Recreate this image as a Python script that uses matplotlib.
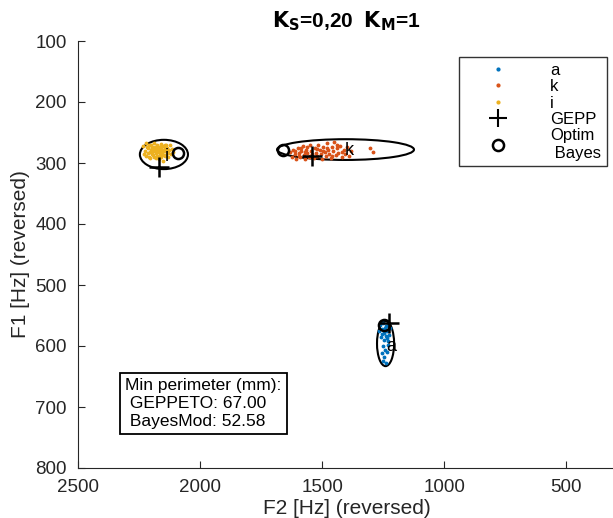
import matplotlib
matplotlib.use("Agg")
import matplotlib.pyplot as plt
from matplotlib.patches import Ellipse
from matplotlib.lines import Line2D

plt.rcParams['font.family'] = ['Liberation Sans', 'DejaVu Sans']

COL = {"a": "#0072BD", "k": "#D95319", "i": "#EDB120"}

# token clouds (F2, F1) in Hz
i_f2 = [2232, 2226, 2222, 2220, 2215, 2212, 2208, 2205, 2202, 2198, 2195, 2192, 2190, 2188, 2185,
        2182, 2178, 2175, 2172, 2170, 2168, 2165, 2162, 2160, 2157, 2155, 2152, 2150, 2147, 2145,
        2142, 2140, 2137, 2134, 2130, 2127, 2124, 2120, 2116, 2112, 2228, 2218, 2210, 2200, 2194,
        2186, 2180, 2174, 2166, 2158, 2148, 2138, 2206, 2196, 2184, 2176, 2164, 2154, 2144, 2132]
i_f1 = [272, 280, 268, 288, 276, 284, 270, 292, 279, 286, 273, 281, 268, 290, 277,
        284, 271, 288, 279, 294, 274, 283, 269, 290, 278, 285, 272, 296, 281, 276,
        288, 270, 283, 275, 290, 279, 271, 285, 277, 282, 285, 274, 290, 270, 287,
        274, 292, 282, 288, 274, 287, 278, 282, 276, 280, 276, 278, 280, 270, 284]

k_f2 = [1632, 1625, 1618, 1612, 1606, 1600, 1595, 1590, 1585, 1580, 1575, 1570, 1565, 1560, 1555,
        1550, 1545, 1540, 1535, 1530, 1525, 1520, 1515, 1510, 1505, 1500, 1495, 1490, 1485, 1480,
        1475, 1470, 1465, 1460, 1455, 1450, 1445, 1440, 1435, 1428, 1420, 1412, 1405, 1398, 1390,
        1380, 1302, 1290, 1610, 1588, 1572, 1548, 1522, 1498, 1478, 1458, 1438, 1418, 1596, 1562]
k_f1 = [282, 290, 279, 286, 293, 276, 284, 290, 280, 272, 287, 294, 278, 283, 290,
        271, 280, 286, 292, 276, 283, 289, 270, 279, 286, 293, 274, 282, 288, 268,
        278, 285, 291, 273, 281, 266, 287, 276, 283, 272, 290, 279, 285, 274, 288,
        281, 275, 282, 280, 275, 282, 288, 277, 281, 275, 289, 270, 282, 288, 273]

a_f2 = [1262, 1255, 1250, 1245, 1240, 1235, 1230, 1225, 1258, 1248, 1238, 1228, 1252, 1242, 1232,
        1256, 1246, 1236, 1250, 1240, 1266, 1220, 1244, 1254, 1234]
a_f1 = [566, 572, 562, 578, 568, 575, 565, 582, 586, 590, 584, 592, 600, 606, 598,
        612, 618, 610, 624, 628, 575, 570, 571, 580, 587]

vowels = ["a", "k", "i"]
# dispersion ellipses: centre F2, centre F1, width (Hz), height (Hz)
ell_f2 = [1240, 1404, 2148]
ell_f1 = [596, 278, 286]
ell_w = [70, 561, 197]
ell_h = [74, 34, 48]
# label positions
lab_f2 = [1217, 1389, 2135]
lab_f1 = [601, 279, 290]
# GEPPETO and Bayes optimum targets
gepp_f2 = [1225, 1541, 2168]
gepp_f1 = [562, 288, 307]
bayes_f2 = [1246, 1660, 2090]
bayes_f1 = [565, 279, 284]

fig = plt.figure(figsize=(6.13, 5.18), dpi=100)
ax = fig.add_axes([78 / 613, 50 / 518, 537 / 613, 427 / 518])

clouds = {"a": (a_f2, a_f1), "k": (k_f2, k_f1), "i": (i_f2, i_f1)}
for v in vowels:
    ax.plot(clouds[v][0], clouds[v][1], ".", color=COL[v], ms=3.5, ls="none")

for j, v in enumerate(vowels):
    ax.add_patch(Ellipse((ell_f2[j], ell_f1[j]), ell_w[j], ell_h[j], fill=False,
                         ec="black", lw=1.5))
    ax.text(lab_f2[j], lab_f1[j], v, ha="center", va="center", fontsize=13)
    ax.plot(gepp_f2[j], gepp_f1[j], "+", color="black", ms=14, mew=1.8)
    ax.plot(bayes_f2[j], bayes_f1[j], "o", color="black", mfc="none", ms=8, mew=1.8)

ax.set_xlim(2500, 300)
ax.set_ylim(800, 100)
ax.set_xticks([2500, 2000, 1500, 1000, 500])
ax.set_yticks(range(100, 801, 100))
for s in ["top", "right"]:
    ax.spines[s].set_visible(False)
for s in ["left", "bottom"]:
    ax.spines[s].set_color("#262626")
ax.tick_params(direction="in", length=5, colors="#262626", labelsize=13.5)
ax.tick_params(axis="x", pad=8)
ax.tick_params(axis="y", pad=8)
ax.set_xlabel("F2 [Hz] (reversed)", fontsize=15, color="#262626", labelpad=2)
ax.set_ylabel("F1 [Hz] (reversed)", fontsize=15, color="#262626", labelpad=4)
ax.set_title(r"$\mathbf{K_S}$=0,20  $\mathbf{K_M}$=1", fontsize=15, fontweight="bold", pad=10)

handles = [Line2D([], [], marker=".", color=COL[v], ls="none", ms=4) for v in vowels]
handles += [Line2D([], [], marker="+", color="black", ls="none", ms=13, mew=1.5),
            Line2D([], [], marker="o", color="black", mfc="none", ls="none", ms=8, mew=1.8)]
leg = ax.legend(handles, ["a", "k", "i", "GEPP", "Optim\n Bayes"], loc="upper right",
                bbox_to_anchor=(607 / 613, 1 - 57 / 518), bbox_transform=fig.transFigure,
                fontsize=12, frameon=True, fancybox=False, edgecolor="black",
                handletextpad=1.1, borderpad=0.35, labelspacing=0.08, handlelength=4.0,
                borderaxespad=0)
leg.get_frame().set_linewidth(1.0)

ax.text(2307, 652, "Min perimeter (mm):\n GEPPETO: 67.00\n BayesMod: 52.58",
        ha="left", va="top", fontsize=12.5, linespacing=1.25,
        bbox=dict(boxstyle="square,pad=0.3", fc="white", ec="black", lw=1.3))

fig.savefig("out.png", dpi=100)
